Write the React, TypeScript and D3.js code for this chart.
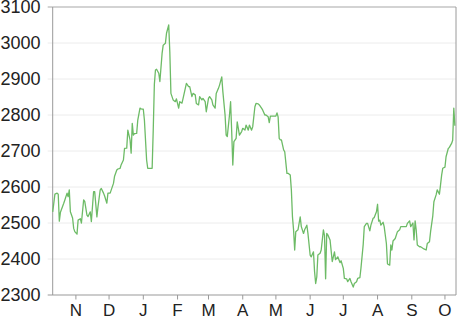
import React from "react";
import * as d3 from "d3";

const startDate = "2012-10-11";
const endDate = "2013-10-11";

// day offsets from startDate and the values
const dayOffsets = [
  0, 1, 2, 4, 5, 6, 7, 10, 11, 13, 14, 15, 16, 18, 19, 20, 22, 23, 25, 26, 28, 29, 31, 32, 34, 35, 37, 38, 40, 41,
  43, 44, 46, 47, 49, 50, 52, 53, 55, 56, 58, 59, 61, 62, 64,
  65, 67, 68, 70, 71, 72, 73, 74, 76, 77, 79, 80, 82, 83, 85, 86, 88, 89, 90, 91, 92, 93, 94, 96, 97, 99, 100, 102,
  103, 105, 106, 107, 108, 109, 111,
  112, 114, 115, 117, 118, 120, 121, 123, 124, 126, 127, 129, 130, 132, 133, 135, 136, 138, 139, 141, 142, 144, 145,
  147, 148, 150, 151, 153, 154, 156, 157, 158, 160, 161, 162, 163, 164, 166, 167, 169, 170, 171, 172, 174, 175, 177,
  178, 180, 181, 183, 184, 186, 187, 189, 190,
  192, 193, 195, 196, 197, 198, 200, 202, 203, 204, 205, 206, 207, 209, 210, 212, 213, 215, 216, 217, 218, 219, 220,
  222, 223, 224, 225, 227, 228, 230, 231, 233, 234, 236, 237, 238, 239, 240, 242, 243, 245, 246, 247, 248, 249, 251,
  253, 255, 256, 258, 260, 261, 263, 264, 266, 267, 269, 270, 272, 273, 275, 276, 278, 279, 281, 282, 284, 285, 287,
  288, 290, 291, 293, 294, 295, 296, 297, 299, 300, 302, 303, 305, 306, 307, 308, 310, 312,
  314, 315, 317, 320, 321, 323, 324, 326, 327, 328, 329, 330, 332, 333, 335, 336, 338, 339, 341, 342, 344, 345, 347,
  348, 350, 351, 352, 353, 355, 356, 358, 359, 361, 362, 363, 364,
];

const values = [
  2531, 2555, 2580, 2583, 2580, 2505, 2530, 2555, 2564, 2583, 2573, 2592, 2531, 2514, 2485, 2476, 2469, 2508, 2512,
  2500, 2564, 2560, 2522, 2518, 2531, 2504, 2587, 2587, 2517, 2545,
  2592, 2596, 2583, 2575, 2555, 2583, 2583, 2592, 2610, 2630, 2647, 2650, 2652, 2662, 2675,
  2707, 2708, 2758, 2731, 2694, 2777, 2744, 2748, 2749, 2786, 2819, 2817, 2816, 2786, 2675, 2652, 2652, 2652, 2652,
  2760, 2885, 2925, 2927, 2916, 2893, 2971, 2994, 2999, 3027, 3050, 2975, 2860, 2851, 2842, 2837,
  2845, 2819, 2837, 2833, 2846, 2874, 2888, 2879, 2879, 2851, 2860, 2856, 2832, 2828, 2851, 2842, 2846, 2837, 2809,
  2846, 2851, 2842, 2828, 2819, 2860, 2874, 2883, 2906, 2865, 2800, 2744, 2740, 2800, 2837, 2754, 2661, 2726, 2735,
  2781, 2744, 2749, 2754, 2763, 2758, 2772, 2758, 2772, 2758, 2767, 2823, 2832, 2831, 2828, 2819, 2814,
  2800, 2800, 2795, 2779, 2797, 2797, 2797, 2797, 2806, 2795, 2735, 2731, 2731, 2703, 2698, 2638, 2638, 2633, 2592,
  2517, 2481, 2425, 2476, 2481, 2499, 2517, 2490, 2471, 2481, 2494, 2471, 2411, 2406, 2420, 2365, 2332, 2350, 2411,
  2416, 2425, 2481, 2465, 2345, 2471, 2467, 2453,
  2393, 2420, 2398, 2406, 2390, 2395, 2374, 2346, 2345, 2337, 2346, 2337, 2322, 2332, 2337, 2346, 2348, 2375, 2440,
  2490, 2499, 2499, 2478, 2494, 2513, 2515, 2531, 2552, 2505, 2508, 2494, 2502, 2490, 2443, 2386, 2383, 2439, 2425,
  2450, 2457, 2476,
  2481, 2490, 2490, 2490, 2499, 2506, 2490, 2500, 2453, 2506, 2480, 2439, 2434, 2434, 2430, 2428, 2425, 2443, 2448,
  2476, 2520, 2559, 2578, 2592, 2580, 2606, 2633, 2652, 2655, 2684, 2707, 2710, 2721, 2730, 2819, 2770,
];

const yTicks = [2300, 2400, 2500, 2600, 2700, 2800, 2900, 3000, 3100];
const monthLabels = ["N", "D", "J", "F", "M", "A", "M", "J", "J", "A", "S", "O"];

const W = 471;
const H = 320;
const left = 52.7;
const right = 456;
const top = 7;
const bottom = 295;

export default function App() {
  const start = d3.timeParse("%Y-%m-%d")(startDate) as Date;
  const end = d3.timeParse("%Y-%m-%d")(endDate) as Date;
  const x = d3.scaleTime().domain([start, end]).range([left, right]);
  const y = d3.scaleLinear().domain([2300, 3100]).range([bottom, top]);

  const data = dayOffsets.map((d, i) => ({ date: d3.timeDay.offset(start, d), value: values[i] }));
  const line = d3
    .line<{ date: Date; value: number }>()
    .x((d) => x(d.date))
    .y((d) => y(d.value));

  const monthTicks = d3.timeMonth.range(d3.timeMonth.ceil(start), end);
  const font = "'Liberation Sans', Arial, Helvetica, sans-serif";

  return (
    <div style={{ position: "absolute", left: 0, top: 0 }}>
      <svg width={W} height={H} style={{ display: "block", background: "#fff" }}>
        {yTicks.slice(1, -1).map((t) => (
          <line key={t} x1={left - 5} x2={right} y1={y(t)} y2={y(t)} stroke="#ececec" strokeWidth={1} />
        ))}
        <line x1={left - 5} x2={right} y1={y(3100)} y2={y(3100)} stroke="#c4c4c4" strokeWidth={1.6} />
        <line x1={right} x2={right} y1={top} y2={bottom} stroke="#9a9a9a" strokeWidth={1} />
        <line x1={left} x2={left} y1={top} y2={bottom} stroke="#999" strokeWidth={1} />
        <line x1={left - 5} x2={right} y1={bottom} y2={bottom} stroke="#999" strokeWidth={1} />
        {monthTicks.map((m, i) => (
          <g key={i} transform={`translate(${x(m)},0)`}>
            <line y1={bottom} y2={bottom + 4.5} stroke="#999" strokeWidth={1} />
            <text y={316} textAnchor="middle" fontFamily={font} fontSize={17} fill="#222">
              {monthLabels[i]}
            </text>
          </g>
        ))}
        {yTicks.map((t) => (
          <text
            key={t}
            x={40.5}
            y={y(t)}
            dy="0.36em"
            textAnchor="end"
            fontFamily={font}
            fontSize={18}
            fill="#222"
          >
            {t}
          </text>
        ))}
        <path d={line(data) || ""} fill="none" stroke="#6dbb66" strokeWidth={1.3} strokeLinejoin="round" />
      </svg>
    </div>
  );
}
